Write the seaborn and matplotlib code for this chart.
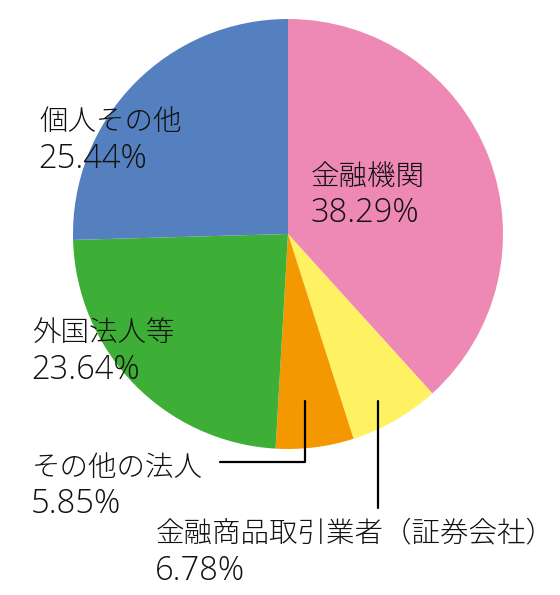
import matplotlib
matplotlib.use("Agg")
import matplotlib.pyplot as plt
import seaborn as sns

sns.set_theme(style="white")
plt.rcParams['font.family'] = ['Noto Sans CJK JP', 'DejaVu Sans']

categories = ["金融機関", "金融商品取引業者（証券会社）", "その他の法人", "外国法人等", "個人その他"]
values = [38.29, 6.78, 5.85, 23.64, 25.44]
colors = ["#EE88B4", "#FFF262", "#F39800", "#3EAF36", "#5580BF"]

W, H = 560, 595
fig = plt.figure(figsize=(W / 100, H / 100), dpi=100)
ax = fig.add_axes([0, 0, 1, 1])

cx, cy, r = 288, H - 234, 215
ax.pie(values, colors=colors, startangle=90, counterclock=False,
       center=(cx, cy), radius=r, frame=True,
       wedgeprops=dict(linewidth=0))
ax.set_xlim(0, W)
ax.set_ylim(0, H)
ax.set_aspect('equal')
ax.axis('off')

def y(p):
    return H - p

# (x, label baseline, percent baseline) in pixels from top
label_pos = {
    "金融機関": (311, 185, 222),
    "金融商品取引業者（証券会社）": (156, 541, 580),
    "その他の法人": (32, 476, 513),
    "外国法人等": (32, 341, 379),
    "個人その他": (39, 130, 168),
}
for cat, v in zip(categories, values):
    px, yl, yp = label_pos[cat]
    ax.text(px, y(yl), cat, fontsize=20.5, ha='left', va='baseline',
            color='#111111', fontweight='light',
            family=['Noto Sans CJK JP', 'DejaVu Sans'])
    ax.text(px - 1, y(yp), f"{v:.2f}%", fontsize=23.5, ha='left', va='baseline',
            color='#111111', fontweight='light',
            family=['Open Sans', 'DejaVu Sans'])

# leader lines
ax.plot([220, 305, 305], [y(462), y(462), y(401)], color='black', lw=1.6)
ax.plot([378, 378], [y(401), y(508)], color='black', lw=1.6)

fig.savefig("out.png", dpi=100)
